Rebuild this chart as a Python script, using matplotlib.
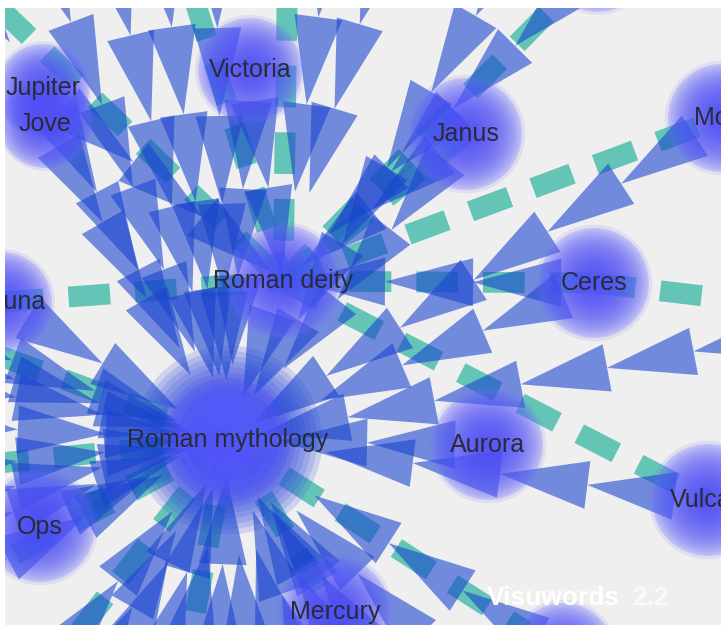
import matplotlib.pyplot as plt
from matplotlib.patches import Polygon, Circle
import numpy as np

plt.rcParams.update({
    "font.family": ["Liberation Sans", "DejaVu Sans"],
})

# nodes: name, x, y (pixels of the screenshot), radius
node_names = ["Jupiter", "Jove", "Victoria", "Janus", "Mors", "Roman deity", "Ceres",
              "Fortuna", "Roman mythology", "Aurora", "Vulcan", "Ops", "Mercury",
              "Diana", "Apollo"]
node_x = [43, 45, 250, 466, 722, 283, 594, 2, 228, 488, 708, 40, 335, 563, 598]
node_y = [90, 122, 70, 134, 118, 281, 283, 302, 440, 445, 500, 527, 612, 655, -38]
node_r = [46, 46, 52, 56, 54, 56, 55, 50, 90, 55, 56, 55, 55, 52, 50]

# off-screen ends of links that leave the view
anchor_names = ["tl", "t1", "t2", "t3", "t4", "t5", "t6", "t7", "t8", "t10",
                "r1", "r2", "l1", "l2", "l3", "l4", "l5", "l6", "l7", "l8",
                "b1", "b2", "b3", "b4", "b5", "b6", "b7", "b8", "b9", "b10", "b11", "b12"]
anchor_x = [-40, 160, 330, 385, 110, 185, 288, 215, 40, 520,
            780, 780, -70, -70, -70, -70, -70, -70, -70, -70,
            90, 175, 255, 420, 480, 10, 135, 215, 300, 380, 45, 340]
anchor_y = [-30, -60, -70, -60, -50, -30, -60, -60, -60, -60,
            335, 305, 380, 470, 600, 330, 540, 425, 505, 355,
            720, 720, 730, 720, 700, 720, 740, 740, 720, 730, 760, 760]

# links drawn as chains of triangles (pointing at the second node)
blue_links = [
    ("Jupiter", "Roman mythology"), ("Jove", "Roman mythology"),
    ("Victoria", "Roman mythology"), ("t1", "Roman mythology"),
    ("Roman deity", "Roman mythology"), ("Janus", "Roman mythology"),
    ("Mors", "Roman mythology"), ("Ceres", "Roman mythology"),
    ("r1", "Roman mythology"), ("Aurora", "Roman mythology"),
    ("Vulcan", "Roman mythology"), ("Mercury", "Roman mythology"),
    ("Ops", "Roman mythology"), ("Fortuna", "Roman mythology"),
    ("b1", "Roman mythology"), ("b2", "Roman mythology"), ("b3", "Roman mythology"),
    ("b4", "Roman mythology"), ("b5", "Roman mythology"), ("Diana", "Roman mythology"),
    ("l1", "Roman mythology"), ("l2", "Roman mythology"), ("l3", "Roman mythology"),
    ("l4", "Roman mythology"), ("l5", "Roman mythology"), ("l6", "Roman mythology"),
    ("l7", "Roman mythology"), ("l8", "Roman mythology"),
    ("b6", "Roman mythology"), ("b7", "Roman mythology"), ("b8", "Roman mythology"),
    ("b9", "Roman mythology"), ("b10", "Roman mythology"), ("b11", "Roman mythology"),
    ("b12", "Roman mythology"), ("t10", "Roman mythology"),
    ("t4", "Roman mythology"), ("t7", "Roman mythology"), ("t8", "Roman mythology"),
    ("t2", "Roman deity"), ("t3", "Roman deity"), ("Victoria", "Roman deity"),
    ("Janus", "Roman deity"), ("Apollo", "Roman deity"), ("Ceres", "Roman deity"),
    ("Jupiter", "Roman deity"), ("tl", "Jupiter"),
]

# links drawn as thick dashed lines
teal_links = [
    ("Fortuna", "Roman deity"), ("Roman deity", "Ceres"), ("Ceres", "r2"),
    ("Roman deity", "Mors"), ("Roman deity", "Apollo"), ("tl", "Roman deity"),
    ("t5", "Roman deity"), ("t6", "Roman deity"), ("Roman deity", "Vulcan"),
    ("Roman mythology", "Diana"), ("Roman mythology", "Ops"),
    ("Roman mythology", "l3"), ("Roman mythology", "l2"),
    ("Roman mythology", "Mercury"), ("Roman mythology", "b2"),
    ("Roman deity", "Janus"), ("Roman mythology", "l4"),
    ("Roman mythology", "b6"),
]

pos = {}
rad = {}
for n, x, y, r in zip(node_names, node_x, node_y, node_r):
    pos[n] = np.array([x, y], float)
    rad[n] = r
for n, x, y in zip(anchor_names, anchor_x, anchor_y):
    pos[n] = np.array([x, y], float)
    rad[n] = 0

fig = plt.figure(figsize=(7.21, 6.30), dpi=100, facecolor="white")
ax = fig.add_axes([5 / 721, 5 / 630, 716 / 721, 617 / 630])
ax.set_facecolor("#efefef")
ax.set_xlim(5, 721)
ax.set_ylim(625, 8)
ax.axis("off")
ax.add_patch(plt.Rectangle((5, 8), 716, 617, color="#efefef", zorder=0))

# dashed links
for a, b in teal_links:
    p0, p1 = pos[a], pos[b]
    ax.plot([p0[0], p1[0]], [p0[1], p1[1]], color="#2fb4a0", alpha=0.72,
            lw=15, dashes=(2.0, 1.2), dash_capstyle="butt", zorder=2)

# triangle chains
L, W = 88, 48
for a, b in blue_links:
    p0, p1 = pos[a], pos[b]
    d = p1 - p0
    dist = np.hypot(*d)
    u = d / dist
    nrm = np.array([-u[1], u[0]])
    s = rad[a] * 0.6
    end = dist - rad[b] * 0.7
    while s + L * 0.6 < end:
        base = p0 + u * s
        apex = p0 + u * (s + L)
        tri = [base + nrm * W / 2, base - nrm * W / 2, apex]
        ax.add_patch(Polygon(tri, closed=True, color="#1842cf", alpha=0.58,
                             lw=0, zorder=3))
        s += L

# glowing nodes
for n, x, y, r in zip(node_names, node_x, node_y, node_r):
    if n == "Roman mythology":
        # hub sits under its own links, soft edged, with a bright core on top
        for i in range(10):
            rr = r * (1.05 - 0.06 * i)
            ax.add_patch(Circle((x, y), rr, color="#2f45e0", alpha=0.17, lw=0, zorder=2.5))
        steps = 30
        for i in range(steps):
            rr = r * 0.72 * (1 - i / steps)
            ax.add_patch(Circle((x, y), rr, color="#5a5aff", alpha=0.11, lw=0, zorder=4))
        continue
    ax.add_patch(Circle((x, y), r * 1.06, color="#6a6aff", alpha=0.12, lw=0, zorder=4))
    ax.add_patch(Circle((x, y), r, color="#6a6aff", alpha=0.25, lw=0, zorder=4))
    steps = 30
    for i in range(steps):
        rr = r * 0.97 * (1 - i / steps)
        ax.add_patch(Circle((x, y), rr, color="#5050ff", alpha=0.075, lw=0, zorder=4))

# labels
label_y = {"Jupiter": 88, "Jove": 124}
for n, x, y in zip(node_names, node_x, node_y):
    if n in ("Diana", "Apollo"):
        continue
    ax.text(x, label_y.get(n, y), n, ha="center", va="center", fontsize=18,
            color="#2a2a3a", zorder=6, clip_on=True)

ax.text(487, 598, "Visuwords", ha="left", va="center", fontsize=19,
        color="white", weight="bold", zorder=7)
ax.text(632, 598, "2.2", ha="left", va="center", fontsize=19,
        color="white", alpha=0.75, weight="bold", zorder=7)

fig.savefig("out.png", dpi=100, facecolor="white")
